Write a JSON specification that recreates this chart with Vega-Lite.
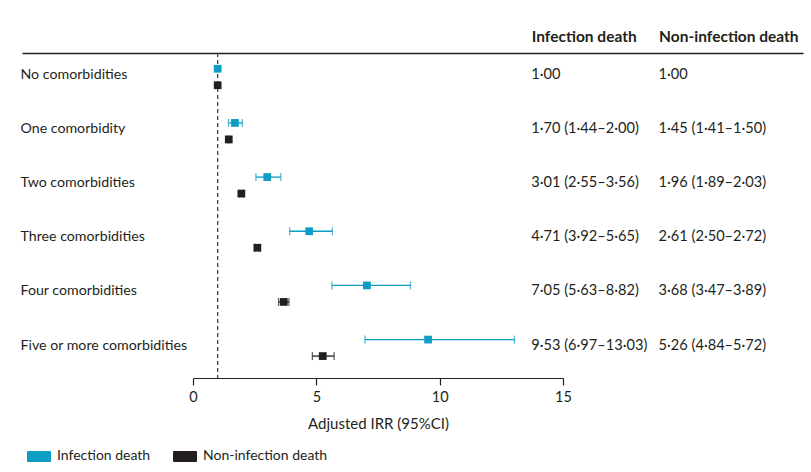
{
  "$schema": "https://vega.github.io/schema/vega-lite/v6.json",
  "width": 781,
  "height": 325,
  "autosize": "none",
  "padding": {"left": 22, "top": 53, "right": 8, "bottom": 94},
  "background": "white",
  "config": {
    "view": {"stroke": null},
    "font": "Lato",
    "text": {"font": "Lato"},
    "axis": {"labelFont": "Lato", "titleFont": "Lato"},
    "legend": {"labelFont": "Lato"}
  },
  "data": {
    "values": [
      {"row": "No comorbidities", "group": "Infection death", "est": 1.00, "lo": null, "hi": null, "label": "1·00"},
      {"row": "No comorbidities", "group": "Non-infection death", "est": 1.00, "lo": null, "hi": null, "label": "1·00"},
      {"row": "One comorbidity", "group": "Infection death", "est": 1.70, "lo": 1.44, "hi": 2.00, "label": "1·70 (1·44–2·00)"},
      {"row": "One comorbidity", "group": "Non-infection death", "est": 1.45, "lo": 1.41, "hi": 1.50, "label": "1·45 (1·41–1·50)"},
      {"row": "Two comorbidities", "group": "Infection death", "est": 3.01, "lo": 2.55, "hi": 3.56, "label": "3·01 (2·55–3·56)"},
      {"row": "Two comorbidities", "group": "Non-infection death", "est": 1.96, "lo": 1.89, "hi": 2.03, "label": "1·96 (1·89–2·03)"},
      {"row": "Three comorbidities", "group": "Infection death", "est": 4.71, "lo": 3.92, "hi": 5.65, "label": "4·71 (3·92–5·65)"},
      {"row": "Three comorbidities", "group": "Non-infection death", "est": 2.61, "lo": 2.50, "hi": 2.72, "label": "2·61 (2·50–2·72)"},
      {"row": "Four comorbidities", "group": "Infection death", "est": 7.05, "lo": 5.63, "hi": 8.82, "label": "7·05 (5·63–8·82)"},
      {"row": "Four comorbidities", "group": "Non-infection death", "est": 3.68, "lo": 3.47, "hi": 3.89, "label": "3·68 (3·47–3·89)"},
      {"row": "Five or more comorbidities", "group": "Infection death", "est": 9.53, "lo": 6.97, "hi": 13.03, "label": "9·53 (6·97–13·03)"},
      {"row": "Five or more comorbidities", "group": "Non-infection death", "est": 5.26, "lo": 4.84, "hi": 5.72, "label": "5·26 (4·84–5·72)"}
    ]
  },
  "layer": [
    {
      "layer": [
        {
          "data": {"values": [{}]},
          "mark": {"type": "rule", "strokeDash": [4, 3], "color": "#444444", "strokeWidth": 1.3},
          "encoding": {
            "x": {
              "datum": 1,
              "type": "quantitative",
              "scale": {"domain": [0, 15], "range": [171, 541], "nice": false, "zero": false},
              "axis": {
                "orient": "bottom",
                "values": [0, 5, 10, 15],
                "title": "Adjusted IRR (95%CI)",
                "grid": false,
                "labelFlush": false,
                "domainColor": "#231f20",
                "domainWidth": 1.2,
                "tickColor": "#231f20",
                "tickWidth": 1.2,
                "tickSize": 7,
                "labelFontSize": 14.5,
                "labelColor": "#231f20",
                "labelPadding": 5,
                "titleFontSize": 15,
                "titleFontWeight": "normal",
                "titleColor": "#231f20",
                "titlePadding": 13
              }
            }
          }
        },
        {
          "mark": {"type": "rule", "strokeWidth": 1.3},
          "encoding": {
            "x": {"field": "lo", "type": "quantitative"},
            "x2": {"field": "hi"},
            "y": {
              "field": "row",
              "type": "nominal",
              "scale": {
                "type": "band",
                "paddingInner": 0,
                "paddingOuter": 0,
                "domain": ["No comorbidities", "One comorbidity", "Two comorbidities", "Three comorbidities", "Four comorbidities", "Five or more comorbidities"]
              },
              "axis": {
                "orient": "left",
                "title": null,
                "domain": false,
                "ticks": false,
                "tickSize": 0,
                "grid": false,
                "labelOffset": -5.4,
                "labelAlign": "left",
                "labelBaseline": "middle",
                "labelPadding": 2,
                "labelFontSize": 14.2,
                "labelColor": "#231f20",
                "labelLimit": 300
              }
            },
            "yOffset": {"field": "group", "type": "nominal", "scale": {"range": [7.5, 40.5], "paddingInner": 0, "paddingOuter": 0}},
            "color": {
              "field": "group",
              "type": "nominal",
              "scale": {"domain": ["Infection death", "Non-infection death"], "range": ["#0e9dc3", "#231f20"]},
              "legend": {
                "orient": "none",
                "legendX": 5,
                "legendY": 391,
                "direction": "horizontal",
                "title": null,
                "symbolType": "M-1,-0.435H1V0.435H-1Z",
                "symbolSize": 529,
                "labelFontSize": 14,
                "labelColor": "#231f20",
                "labelOffset": 6,
                "columnPadding": 20,
                "encode": {
                  "symbols": {
                    "update": {
                      "fill": {"scale": "color", "field": "value"},
                      "stroke": {"value": "#231f20"},
                      "strokeWidth": {"value": 1},
                      "opacity": {"value": 1}
                    }
                  }
                }
              }
            }
          }
        },
        {
          "transform": [{"fold": ["lo", "hi"], "as": ["end", "val"]}],
          "mark": {"type": "tick", "thickness": 1.3, "size": 8},
          "encoding": {
            "x": {"field": "val", "type": "quantitative"},
            "y": {"field": "row", "type": "nominal"},
            "yOffset": {"field": "group", "type": "nominal"},
            "color": {"field": "group", "type": "nominal"}
          }
        },
        {
          "mark": {"type": "point", "shape": "square", "filled": true, "size": 60, "opacity": 1},
          "encoding": {
            "x": {"field": "est", "type": "quantitative"},
            "y": {"field": "row", "type": "nominal"},
            "yOffset": {"field": "group", "type": "nominal"},
            "color": {"field": "group", "type": "nominal"}
          }
        }
      ]
    },
    {
      "mark": {"type": "text", "align": "left", "baseline": "middle", "fontSize": 14.6, "color": "#231f20"},
      "encoding": {
        "x": {
          "field": "group",
          "type": "nominal",
          "scale": {
            "type": "point",
            "padding": 0.567,
            "align": 0,
            "domain": ["_1", "_2", "_3", "_4", "Infection death", "Non-infection death"]
          },
          "axis": {
            "orient": "top",
            "title": null,
            "values": ["Infection death", "Non-infection death"],
            "ticks": false,
            "tickSize": 0,
            "grid": false,
            "labelAngle": 0,
            "labelAlign": "left",
            "labelFontWeight": "bold",
            "labelFontSize": 15.5,
            "labelColor": "#231f20",
            "labelPadding": 9,
            "labelLimit": 300,
            "domainColor": "#231f20",
            "domainWidth": 1.3
          }
        },
        "y": {"field": "row", "type": "nominal", "bandPosition": 0.4},
        "text": {"field": "label"}
      }
    }
  ],
  "resolve": {"scale": {"x": "independent"}, "axis": {"x": "independent"}}
}
